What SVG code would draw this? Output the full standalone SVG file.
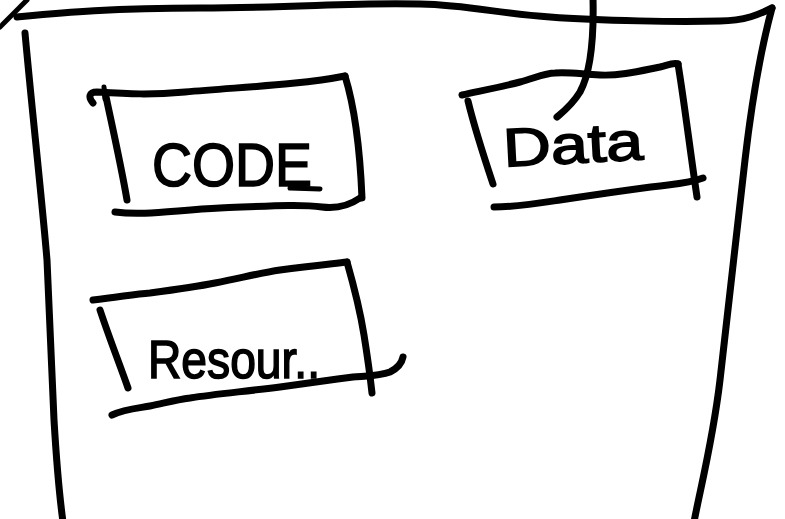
<svg xmlns="http://www.w3.org/2000/svg" width="785" height="519" viewBox="0 0 785 519">
  <style>
    .ink { fill: none; stroke: #000; stroke-width: 7; stroke-linecap: round; stroke-linejoin: round; }
    .thin { stroke-width: 5; }
    .label { font-family: "Liberation Sans", "DejaVu Sans", sans-serif; fill: #000; stroke: #000; stroke-width: 1.6; }
  </style>
  <rect width="785" height="519" fill="#fff"/>

  <!-- outer container: lid, walls -->
  <g id="container">
    <path class="ink thin" d="M0,27 L27,0"/>
    <path class="ink" d="M17,17 C60,13 110,8 200,8 C300,8 350,2 420,4 C470,5 500,14 550,17 C600,21 680,22 720,21 C745,21 760,14 772,8"/>
    <path class="ink" d="M25,33 C32,110 42,200 47,260 C50,320 52,380 54,420 C57,470 60,500 63,522"/>
    <path class="ink" d="M772,8 C762,45 752,100 745,160 C737,230 728,310 720,380 C713,440 700,490 694,522"/>
  </g>

  <!-- CODE block -->
  <g id="code">
    <path class="ink" d="M93,103 C88,97 89,92 97,92 C130,94 150,95 185,92 C240,87 300,85 345,76"/>
    <path class="ink thin" d="M104,87 L105,99"/>
    <path class="ink" d="M105,92 C113,130 121,165 127,200"/>
    <path class="ink" d="M345,76 C354,105 360,150 362,198"/>
    <path class="ink" d="M115,212 C145,216 175,210 220,208 C270,206 300,204 322,207 C338,209 350,205 360,198"/>
    <text class="label" x="152" y="186" font-size="62" textLength="160" lengthAdjust="spacingAndGlyphs">CODE</text>
    <path class="ink thin" d="M290,188 L320,189"/>
  </g>

  <!-- Data block -->
  <g id="data">
    <path class="ink" d="M462,95 C485,90 505,86 520,82 C535,78 545,73 555,73 C570,72 580,74 600,75 C620,76 640,71 660,67 C668,65 674,62 678,64"/>
    <path class="ink" d="M468,101 C475,130 485,160 493,184"/>
    <path class="ink" d="M678,64 C684,100 690,150 697,197"/>
    <path class="ink" d="M494,207 C515,207 540,203 560,200 C600,194 640,188 668,185 C685,183 695,181 703,178"/>
    <text class="label" x="503" y="163" font-size="54" textLength="140" lengthAdjust="spacingAndGlyphs" transform="rotate(-3 573 145)">Data</text>
  </g>

  <!-- Resources block -->
  <g id="resources">
    <path class="ink" d="M93,300 C120,297 135,294 150,293 C180,289 200,286 215,283 C245,277 260,273 280,270 C310,266 330,264 347,262"/>
    <path class="ink" d="M100,310 C110,340 120,365 128,388"/>
    <path class="ink" d="M347,262 C355,290 360,310 364,335 C368,360 370,375 372,393"/>
    <path class="ink" d="M112,415 C125,409 140,408 150,406 C165,403 175,400 190,398 C215,394 240,392 280,387 C310,383 330,380 353,377 C365,376 380,376 390,372 C398,368 402,362 403,357"/>
    <text class="label" x="148" y="378" font-size="54" textLength="172" lengthAdjust="spacingAndGlyphs">Resour..</text>
  </g>

  <!-- link from above into the Data block -->
  <g id="connectors">
    <path class="ink" d="M593,-2 C594,40 591,72 580,92 C572,105 563,112 557,117"/>
  </g>
</svg>
